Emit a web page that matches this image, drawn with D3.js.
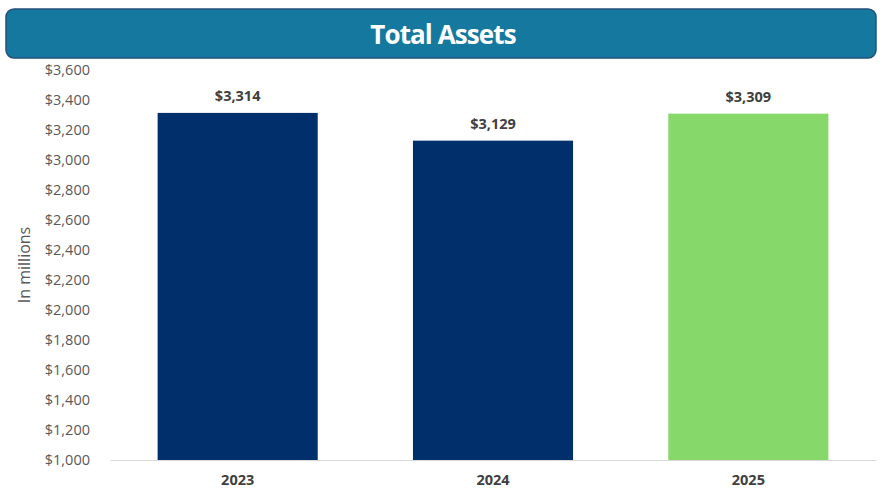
<!DOCTYPE html>
<html>
<head>
<meta charset="utf-8">
<script src="https://cdn.jsdelivr.net/npm/d3@7"></script>
<style>
  html, body { margin: 0; padding: 0; background: #fff; }
  svg { display: block; font-family: "Open Sans", "Noto Sans", sans-serif; }
</style>
</head>
<body>
<div id="chart"></div>
<script>
// chart data
const years = ["2023", "2024", "2025"];
const totalAssets = [3314, 3129, 3309];
const barColors = ["#002f6c", "#002f6c", "#86d86a"];
const yTicks = [1000, 1200, 1400, 1600, 1800, 2000, 2200, 2400, 2600, 2800, 3000, 3200, 3400, 3600];

const width = 882, height = 498;
const margin = { top: 70, right: 6, bottom: 38, left: 110 };
const innerW = width - margin.left - margin.right;
const innerH = height - margin.top - margin.bottom;

const svg = d3.select("#chart").append("svg")
    .attr("width", width)
    .attr("height", height);

// title banner
svg.append("rect")
    .attr("x", 6).attr("y", 9)
    .attr("width", 870).attr("height", 49)
    .attr("rx", 8).attr("ry", 8)
    .attr("fill", "#15799f")
    .attr("stroke", "#22507a")
    .attr("stroke-width", 1.5);
svg.append("text")
    .attr("x", 443).attr("y", 34)
    .attr("text-anchor", "middle")
    .attr("dominant-baseline", "central")
    .attr("fill", "#fff")
    .attr("font-size", 26)
    .attr("font-weight", "bold")
    .attr("letter-spacing", -0.9)
    .text("Total Assets");

const g = svg.append("g")
    .attr("transform", `translate(${margin.left},${margin.top})`);

const x = d3.scaleBand().domain(years).range([0, innerW]).paddingInner(0.373).paddingOuter(0.1865);
const y = d3.scaleLinear().domain([1000, 3600]).range([innerH, 0]);

// y axis (labels only)
const yAxis = g.append("g")
    .call(d3.axisLeft(y).tickValues(yTicks).tickSize(0).tickPadding(20)
        .tickFormat(d => "$" + d3.format(",")(d)));
yAxis.select(".domain").remove();
yAxis.selectAll("text")
    .attr("fill", "#595959")
    .attr("font-size", 14.5)
    .attr("font-family", "\"Open Sans\", sans-serif");

// bars
g.selectAll(".bar")
    .data(years)
    .join("rect")
    .attr("class", "bar")
    .attr("x", d => x(d))
    .attr("width", x.bandwidth())
    .attr("y", (d, i) => y(totalAssets[i]))
    .attr("height", (d, i) => innerH - y(totalAssets[i]))
    .attr("fill", (d, i) => barColors[i]);

// x axis
const xAxis = g.append("g")
    .attr("transform", `translate(0,${innerH})`)
    .call(d3.axisBottom(x).tickSize(0).tickPadding(15));
xAxis.select(".domain").attr("stroke", "#d9d9d9");
xAxis.selectAll("text")
    .attr("fill", "#404040")
    .attr("font-size", 14.5)
    .attr("font-weight", "bold")
    .attr("font-family", "\"Open Sans\", sans-serif");

// value labels
g.selectAll(".val")
    .data(years)
    .join("text")
    .attr("class", "val")
    .attr("x", d => x(d) + x.bandwidth() / 2)
    .attr("y", (d, i) => y(totalAssets[i]) - 12)
    .attr("text-anchor", "middle")
    .attr("fill", "#404040")
    .attr("font-size", 14.5)
    .attr("font-weight", "bold")
    .text((d, i) => "$" + d3.format(",")(totalAssets[i]));

// y axis title
svg.append("text")
    .attr("transform", `translate(30,${margin.top + innerH / 2}) rotate(-90)`)
    .attr("text-anchor", "middle")
    .attr("fill", "#595959")
    .attr("font-size", 16)
    .text("In millions");
</script>
</body>
</html>
